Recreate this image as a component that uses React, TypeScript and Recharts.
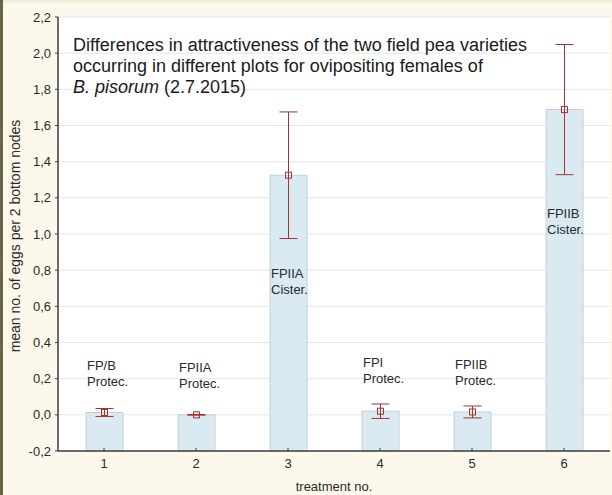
import {
  Bar,
  CartesianGrid,
  ComposedChart,
  ErrorBar,
  Label,
  LabelList,
  Scatter,
  XAxis,
  YAxis,
} from "recharts";

// Mean eggs per 2 bottom nodes for each treatment, with error bar half-lengths.
const treatments = ["1", "2", "3", "4", "5", "6"];
const meanEggs = [0.013, 0, 1.325, 0.02, 0.016, 1.688];
const errorHalf = [0.022, 0.002, 0.35, 0.04, 0.033, 0.36];

// Two-line note printed over each bar, and the value where its first line sits.
const varietyNames = ["FP/B", "FPIIA", "FPIIA", "FPI", "FPIIB", "FPIIB"];
const plotTypes = ["Protec.", "Protec.", "Cister.", "Protec.", "Protec.", "Cister."];
const noteAt = [0.25, 0.235, 0.755, 0.267, 0.255, 1.089];

const yTicks = [-0.2, 0, 0.2, 0.4, 0.6, 0.8, 1.0, 1.2, 1.4, 1.6, 1.8, 2.0, 2.2];
const Y_MIN = -0.2;
const Y_MAX = 2.2;

const FONT = "'Liberation Sans', Arial, sans-serif";
const TEXT = "#2a2a2a";
const AXIS = "#3c3c3c";
const ERR = "#a63232";
const BAR_FILL = "#d9eaf2";
const BAR_STROKE = "#c6ced3";

const data = treatments.map((t, i) => ({
  treatment: t,
  span: [Y_MIN, meanEggs[i]],
  mean: meanEggs[i],
  err: errorHalf[i],
  note: noteAt[i],
  variety: varietyNames[i],
  plot: plotTypes[i],
}));

const fmt = (v: number) => v.toFixed(1).replace(".", ",");

function BottomTick({ x, y, payload }: any) {
  return (
    <g>
      <line x1={x} x2={x} y1={y} y2={y - 3} stroke={AXIS} />
      <text x={x} y={y + 17} textAnchor="middle" fontSize={13} fill={TEXT} fontFamily={FONT}>
        {payload.value}
      </text>
    </g>
  );
}

function TopTick({ x, y }: any) {
  return <line x1={x} x2={x} y1={y} y2={y + 3} stroke={AXIS} />;
}

function RightTick({ x, y }: any) {
  return <line x1={x - 3} x2={x} y1={y} y2={y} stroke={AXIS} />;
}

function MeanMarker({ x, y, width, height }: any) {
  const cx = x + width / 2;
  const cy = Math.min(y, y + height);
  return <rect x={cx - 3} y={cy - 3} width={6} height={6} fill="none" stroke={ERR} strokeWidth={1} />;
}

function NoteText({ cx, cy, payload }: any) {
  const left = cx - 17;
  return (
    <text x={left} y={cy} fontSize={13} fill={TEXT} fontFamily={FONT}>
      <tspan x={left}>{payload.variety}</tspan>
      <tspan x={left} dy={16}>
        {payload.plot}
      </tspan>
    </text>
  );
}

function YTitle({ viewBox }: any) {
  const cy = viewBox.y + viewBox.height / 2 + 2;
  return (
    <text
      transform={`translate(19.5, ${cy}) rotate(-90)`}
      textAnchor="middle"
      fontSize={14}
      fill={TEXT}
      fontFamily={FONT}
    >
      mean no. of eggs per 2 bottom nodes
    </text>
  );
}

export default function App() {
  return (
    <div
      style={{
        position: "fixed",
        left: 0,
        top: 0,
        width: 612,
        height: 495,
        background: "#fdf8ec",
        overflow: "hidden",
      }}
    >
      <div style={{ position: "absolute", left: 0, top: 0, width: 612, height: 3, background: "#edf1de" }} />
      <div style={{ position: "absolute", left: 0, top: 0, width: 3, height: 495, background: "#6b6547" }} />
      <ComposedChart
        width={612}
        height={495}
        data={data}
        margin={{ top: 17, right: 2, bottom: 0, left: 0 }}
        barCategoryGap={0}
      >
        <CartesianGrid
          xAxisId="b"
          yAxisId="l"
          vertical={false}
          stroke="#e6e6e6"
          fill="#ffffff"
        />
        <XAxis
          xAxisId="b"
          dataKey="treatment"
          height={44}
          axisLine={{ stroke: AXIS, strokeWidth: 1.5 }}
          tickLine={false}
          tickSize={0}
          tickMargin={0}
          tick={<BottomTick />}
          interval={0}
        >
          <Label
            value="treatment no."
            position="insideBottom"
            offset={4}
            fontSize={13}
            fill={TEXT}
            fontFamily={FONT}
          />
        </XAxis>
        <XAxis
          xAxisId="t"
          dataKey="treatment"
          orientation="top"
          height={0}
          axisLine={{ stroke: "#7a7a7a", strokeWidth: 1.5 }}
          tickLine={false}
          tickSize={0}
          tickMargin={0}
          tick={<TopTick />}
          interval={0}
        />
        <YAxis
          yAxisId="l"
          width={58}
          domain={[Y_MIN, Y_MAX]}
          ticks={yTicks}
          interval={0}
          allowDataOverflow
          tickFormatter={fmt}
          tickSize={3}
          tickMargin={4}
          axisLine={{ stroke: AXIS, strokeWidth: 1.5 }}
          tickLine={{ stroke: AXIS }}
          tick={{ fontSize: 13, fill: TEXT, fontFamily: FONT }}
        >
          <Label content={<YTitle />} />
        </YAxis>
        <YAxis
          yAxisId="r"
          orientation="right"
          width={0}
          domain={[Y_MIN, Y_MAX]}
          ticks={yTicks}
          interval={0}
          allowDataOverflow
          tickSize={0}
          tickMargin={0}
          axisLine={{ stroke: AXIS, strokeWidth: 1.5 }}
          tickLine={false}
          tick={<RightTick />}
        />
        <Bar
          xAxisId="b"
          yAxisId="l"
          dataKey="span"
          barSize={37}
          fill={BAR_FILL}
          stroke={BAR_STROKE}
          isAnimationActive={false}
        >
          <ErrorBar dataKey="err" width={9} stroke={ERR} strokeWidth={1} direction="y" />
          <LabelList dataKey="mean" content={<MeanMarker />} />
        </Bar>
        <Scatter
          xAxisId="b"
          yAxisId="l"
          dataKey="note"
          shape={<NoteText />}
          isAnimationActive={false}
        />
        <text x={73} y={51} fontSize={18} fill="#1a1a1a" fontFamily={FONT}>
          <tspan x={73}>Differences in attractiveness of the two field pea varieties</tspan>
          <tspan x={73} dy={21}>
            occurring in different plots for ovipositing females of
          </tspan>
          <tspan x={73} dy={21}>
            <tspan fontStyle="italic">B. pisorum</tspan> (2.7.2015)
          </tspan>
        </text>
      </ComposedChart>
    </div>
  );
}
